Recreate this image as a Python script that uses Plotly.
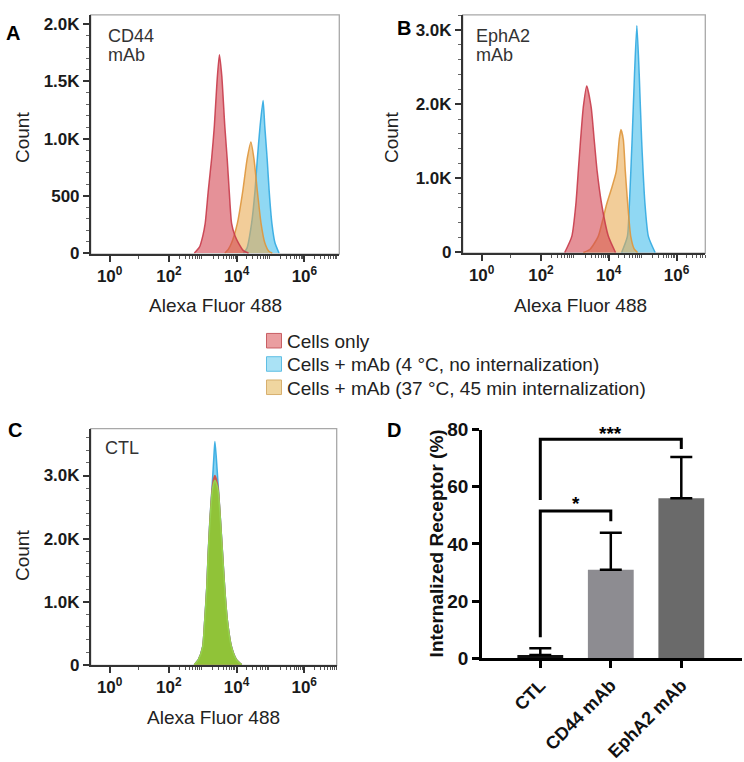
import math
import plotly.graph_objects as go

W, H = 744, 762
FONT = "Liberation Sans, Arial, Helvetica, sans-serif"

# ---------------- data ----------------
# Flow histograms: x = position on the (biexponential) Alexa Fluor 488 axis in decades, y = Count
A_CELLS_X = [2.75, 2.9, 3.0, 3.07, 3.16, 3.26, 3.34, 3.42, 3.49, 3.56, 3.65, 3.72, 3.78, 3.85, 3.95, 4.05, 4.2, 4.35]
A_CELLS_Y = [0, 50, 150, 259, 541, 824, 1107, 1500, 1734, 1550, 1107, 824, 541, 259, 150, 89, 20, 0]
A_4C_X = [4.2, 4.3, 4.44, 4.54, 4.61, 4.69, 4.78, 4.83, 4.9, 4.96, 5.04, 5.13, 5.25]
A_4C_Y = [0, 40, 259, 541, 824, 1107, 1333, 1107, 824, 541, 259, 89, 0]
A_37C_X = [3.65, 3.75, 3.85, 4.02, 4.18, 4.31, 4.42, 4.51, 4.61, 4.72, 4.83, 4.95, 5.05]
A_37C_Y = [0, 30, 89, 259, 541, 824, 971, 824, 541, 259, 89, 15, 0]

B_CELLS_X = [2.7, 2.91, 3.03, 3.10, 3.17, 3.25, 3.35, 3.48, 3.57, 3.66, 3.79, 3.99, 4.2]
B_CELLS_Y = [0, 218, 654, 1090, 1527, 1963, 2247, 1963, 1527, 1090, 654, 218, 0]
B_4C_X = [4.38, 4.55, 4.61, 4.69, 4.76, 4.83, 4.9, 4.97, 5.07, 5.17, 5.37]
B_4C_Y = [0, 218, 654, 1527, 2400, 3063, 2400, 1527, 654, 218, 0]
B_37C_X = [3.25, 3.45, 3.69, 3.82, 3.94, 4.09, 4.22, 4.31, 4.36, 4.43, 4.49, 4.56, 4.65, 4.75, 4.85]
B_37C_Y = [0, 44, 218, 436, 654, 873, 1090, 1527, 1658, 1527, 1090, 654, 218, 50, 0]

C_X = [2.75, 2.87, 3.0, 3.06, 3.12, 3.16, 3.21, 3.28, 3.33, 3.36, 3.40, 3.46, 3.53, 3.59, 3.65, 3.73, 3.85, 4.0, 4.15]
C_4C_Y = [0, 80, 290, 710, 1230, 1750, 2280, 2850, 3300, 3538, 3300, 2820, 2260, 1740, 1220, 700, 290, 80, 0]
C_CELLS_Y = [0, 78, 285, 700, 1215, 1730, 2250, 2790, 2960, 3000, 2950, 2780, 2240, 1725, 1210, 695, 285, 78, 0]
C_37C_Y = [0, 77, 282, 692, 1205, 1718, 2231, 2744, 2890, 2923, 2880, 2744, 2231, 1718, 1205, 692, 282, 77, 0]

FLOW_TICKVALS = [0.25, 2, 4, 6]
FLOW_TICKTEXT = ["10<sup>0</sup>", "10<sup>2</sup>", "10<sup>4</sup>", "10<sup>6</sup>"]
A_YTICKS = [0, 500, 1000, 1500, 2000]
A_YTEXT = ["0", "500", "1.0K", "1.5K", "2.0K"]
BC_YTICKS = [0, 1000, 2000, 3000]
BC_YTEXT = ["0", "1.0K", "2.0K", "3.0K"]

LEGEND_LABELS = ["Cells only",
                 "Cells + mAb (4 °C, no internalization)",
                 "Cells + mAb (37 °C, 45 min internalization)"]

# Panel D
BAR_CATS = ["CTL", "CD44 mAb", "EphA2 mAb"]
BAR_VALS = [1.1, 30.9, 56.0]
BAR_ERR = [2.4, 13.0, 14.4]
D_YTICKS = [0, 20, 40, 60, 80]
# significance brackets: (from, to, left foot, top, right foot, label)
SIG = [("CTL", "CD44 mAb", 7.3, 51.5, 47.9, "*"),
       ("CTL", "EphA2 mAb", 55.4, 76.6, 73.2, "***")]

# ---------------- styles ----------------
RED_FILL, RED_LINE = "rgba(212,72,84,0.60)", "rgba(200,60,75,0.9)"
BLUE_FILL, BLUE_LINE = "rgba(70,190,235,0.60)", "rgba(50,170,225,0.9)"
ORG_FILL, ORG_LINE = "rgba(232,168,80,0.58)", "rgba(222,150,60,0.9)"
GREEN_FILL, GREEN_LINE = "rgba(140,200,55,0.95)", "rgba(150,210,80,1)"
BAR_COLORS = ["#111111", "#8d8c91", "#6a6a6a"]


def px(x):
    return x / W


def py(y):
    return 1 - y / H


fig = go.Figure()


def hist(x, y, fill, line, xa, ya):
    fig.add_trace(go.Scatter(x=x, y=y, mode="lines", fill="tozeroy", fillcolor=fill,
                             line=dict(color=line, width=1.5, shape="spline", smoothing=0.6),
                             xaxis=xa, yaxis=ya, hoverinfo="skip"))


hist(A_4C_X, A_4C_Y, BLUE_FILL, BLUE_LINE, "x", "y")
hist(A_37C_X, A_37C_Y, ORG_FILL, ORG_LINE, "x", "y")
hist(A_CELLS_X, A_CELLS_Y, RED_FILL, RED_LINE, "x", "y")

hist(B_4C_X, B_4C_Y, BLUE_FILL, BLUE_LINE, "x2", "y2")
hist(B_37C_X, B_37C_Y, ORG_FILL, ORG_LINE, "x2", "y2")
hist(B_CELLS_X, B_CELLS_Y, RED_FILL, RED_LINE, "x2", "y2")

hist(C_X, C_4C_Y, "rgba(120,205,240,0.9)", BLUE_LINE, "x3", "y3")
hist(C_X, C_CELLS_Y, "rgba(210,80,70,0.9)", "rgba(210,80,70,0.9)", "x3", "y3")
hist(C_X, C_37C_Y, GREEN_FILL, GREEN_LINE, "x3", "y3")

# Panel D bars
fig.add_trace(go.Bar(x=BAR_CATS, y=BAR_VALS, marker=dict(color=BAR_COLORS, line=dict(width=0)),
                     width=0.65,
                     error_y=dict(type="data", symmetric=False, array=BAR_ERR, arrayminus=[0, 0, 0],
                                  color="black", thickness=2.5, width=11),
                     xaxis="x4", yaxis="y4", hoverinfo="skip"))
annotations = []
SIG_LABEL_Y = [54.0, 78.6]
for (a, b, yl, yt, yr, lab), ly in zip(SIG, SIG_LABEL_Y):
    fig.add_trace(go.Scatter(x=[a, a, b, b], y=[yl, yt, yt, yr], mode="lines",
                             line=dict(color="black", width=3), xaxis="x4", yaxis="y4",
                             hoverinfo="skip"))
    ia, ib = BAR_CATS.index(a), BAR_CATS.index(b)
    annotations.append(dict(x=(ia + ib) / 2, y=ly, xref="x4", yref="y4", text=lab,
                            showarrow=False, font=dict(family=FONT, size=19, color="black", weight="bold"),
                            yanchor="middle"))

# ---------------- axes ----------------
minor_x = sorted([n + math.log10(k) for n in range(2, 7) for k in range(2, 10)] + [1.1])
tickfont = dict(family=FONT, size=17, color="#1a1a1a", weight="bold")


def flow_x(domain, rng, anchor):
    return dict(domain=domain, range=rng, anchor=anchor, showline=True, linecolor="#333", linewidth=1.5,
                ticks="outside", ticklen=6, tickwidth=1.5, tickcolor="#333",
                tickmode="array", tickvals=FLOW_TICKVALS, ticktext=FLOW_TICKTEXT,
                tickfont=tickfont, showgrid=False, zeroline=False,
                minor=dict(tickmode="array", tickvals=minor_x, ticks="outside", ticklen=3,
                           tickwidth=1, tickcolor="#555"))


def flow_y(domain, rng, tv, tt, mdt, anchor):
    return dict(domain=domain, range=rng, anchor=anchor, showline=True, linecolor="#333", linewidth=1.5,
                ticks="outside", ticklen=6, tickwidth=1.5, tickcolor="#333",
                tickmode="array", tickvals=tv, ticktext=tt, tickfont=tickfont,
                showgrid=False, zeroline=False,
                minor=dict(dtick=mdt, tick0=0, ticks="outside", ticklen=3, tickwidth=1, tickcolor="#666"))


fig.update_layout(
    width=W, height=H, margin=dict(l=0, r=0, t=0, b=0),
    paper_bgcolor="white", plot_bgcolor="white", showlegend=False,
    font=dict(family=FONT, color="#222"),
    xaxis=flow_x([px(90.7), px(339.3)], [-0.31, 7.03], "y"),
    yaxis=flow_y([py(251.7), py(5)], [-10, 2082], A_YTICKS, A_YTEXT, 100, "x"),
    xaxis2=flow_x([px(462.7), px(705.3)], [-0.31, 6.85], "y2"),
    yaxis2=flow_y([py(250.8), py(5)], [-10, 3205], BC_YTICKS, BC_YTEXT, 200, "x2"),
    xaxis3=flow_x([px(90.7), px(336.7)], [-0.31, 6.96], "y3"),
    yaxis3=flow_y([py(675.7), py(431.7)], [-10, 3743], BC_YTICKS, BC_YTEXT, 200, "x3"),
    xaxis4=dict(domain=[px(482), px(742)], range=[-0.827, 2.861], type="category", anchor="y4",
                showline=True, linecolor="black", linewidth=2.5, ticks="outside", ticklen=7,
                tickwidth=2.5, tickcolor="black", tickangle=-45,
                tickfont=dict(family=FONT, size=18, color="#111", weight="bold"),
                showgrid=False, zeroline=False),
    yaxis4=dict(domain=[py(668.3), py(432.7)], range=[0, 80], anchor="x4", showline=True, linecolor="black",
                linewidth=2.5, ticks="outside", ticklen=7, tickwidth=2.5, tickcolor="black",
                tickvals=D_YTICKS, tickfont=dict(family=FONT, size=19, color="#111", weight="bold"),
                showgrid=False, zeroline=False),
)

shapes = []
for xr, yr in [("x", "y"), ("x2", "y2"), ("x3", "y3")]:
    shapes.append(dict(type="rect", xref=xr + " domain", yref=yr + " domain", x0=0, x1=1, y0=0, y1=1,
                       line=dict(color="#a8a8a8", width=1.3), layer="below"))

# legend (swatches + text)
leg_fill = ["rgb(234,158,160)", "rgb(170,226,245)", "rgb(240,214,160)"]
leg_line = ["rgb(200,95,100)", "rgb(95,190,228)", "rgb(215,175,110)"]
for i, (lab, fc, lc) in enumerate(zip(LEGEND_LABELS, leg_fill, leg_line)):
    cy = 341 + 24 * i
    shapes.append(dict(type="rect", xref="paper", yref="paper", x0=px(266.5), x1=px(281.5),
                       y0=py(cy + 7.5), y1=py(cy - 7.5), fillcolor=fc, line=dict(color=lc, width=1)))
    annotations.append(dict(x=px(285), y=py(cy + 1), xref="paper", yref="paper", text=lab,
                            xanchor="left", yanchor="middle", showarrow=False,
                            font=dict(family=FONT, size=19, color="#222")))


def txt(x, y, s, size=19, angle=0, anchor="center", bold=False, color="#222"):
    annotations.append(dict(x=px(x), y=py(y), xref="paper", yref="paper", text=s, showarrow=False,
                            xanchor=anchor, yanchor="middle", textangle=angle,
                            font=dict(family=FONT, size=size, color=color,
                                      weight="bold" if bold else "normal")))


# panel letters
txt(13, 24, "A", 20, bold=True, color="black")
txt(404, 19, "B", 20, bold=True, color="black")
txt(15, 433, "C", 20, bold=True, color="black")
txt(394, 433, "D", 20, bold=True, color="black")
# in-plot labels
txt(106, 27, "CD44", 18, anchor="left", color="#333")
txt(106, 46, "mAb", 18, anchor="left", color="#333")
txt(474, 27, "EphA2", 18, anchor="left", color="#333")
txt(474, 46, "mAb", 18, anchor="left", color="#333")
txt(103, 452, "CTL", 18, anchor="left", color="#333")
# axis titles
txt(22, 132, "Count", 19, angle=-90)
txt(391, 132, "Count", 19, angle=-90)
txt(22, 563, "Count", 19, angle=-90)
txt(215, 305, "Alexa Fluor 488", 19)
txt(580, 305, "Alexa Fluor 488", 19)
txt(213, 730, "Alexa Fluor 488", 19)
txt(436, 550, "Internalized Receptor (%)", 19, angle=-90, bold=True, color="#111")

fig.update_layout(shapes=shapes, annotations=annotations)
fig.write_html("out.html", config={"displayModeBar": False},
               post_script="document.body.style.margin='0px';document.body.style.overflow='hidden';")
